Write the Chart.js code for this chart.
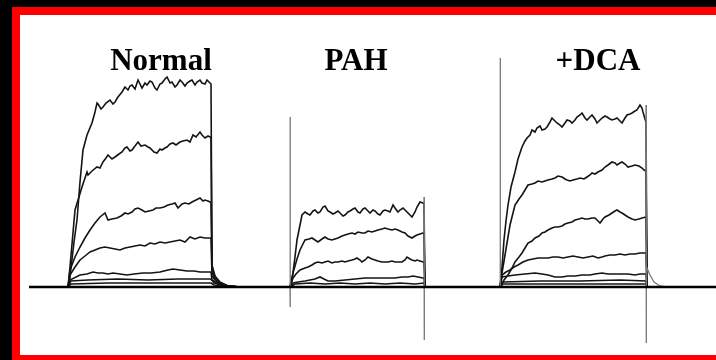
<!DOCTYPE html>
<html>
<head>
<meta charset="utf-8">
<script src="https://cdn.jsdelivr.net/npm/chart.js@4.4.1/dist/chart.umd.min.js"></script>
<style>
  html, body { margin: 0; padding: 0; background: #000; overflow: hidden; }
  #frame { position: absolute; left: 12px; top: 7px; width: 704px; height: 353px; background: #f00; }
  #paper { position: absolute; left: 8px; top: 8px; right: 0; height: 340px; background: #fff; }
  #chart { position: absolute; left: 0; top: 0; }
  .label { position: absolute; top: 44px; width: 160px; margin-left: -80px; text-align: center;
           font: bold 31px "Liberation Serif", "Times New Roman", serif; line-height: 31px; color: #000; }
</style>
</head>
<body>
<div id="frame"><div id="paper"></div></div>
<canvas id="chart" width="716" height="360"></canvas>
<div class="label" style="left:161px">Normal</div>
<div class="label" style="left:356px">PAH</div>
<div class="label" style="left:598px">+DCA</div>
<script>
// panels and where each voltage step starts on the shared time axis (ms)
const panels = ['Normal', 'PAH', '+DCA'];
const onsets = [0, 222, 432];

// zero-current line, shared time axis
const baseline = [[-39, 0], [648, 0]];

// Normal: [time ms, current pA], largest step first
const normal1 = [[0,0],[2,10],[6,45],[9,67],[12,105],[15,137],[19,152],[24,164],[27,175],[29,184],[30,183],[33,178],[35,180],[38,184],[42,187],[45,183],[47,185],[50,190],[54,195],[57,200],[60,197],[62,201],[64,202],[67,198],[70,207],[72,203],[74,199],[77,204],[79,202],[82,206],[84,205],[87,199],[89,197],[92,203],[94,204],[97,208],[99,210],[102,204],[104,205],[107,200],[109,202],[112,207],[114,205],[117,201],[119,204],[122,206],[124,207],[127,202],[129,205],[132,207],[134,204],[137,203],[139,207],[142,204],[143,203],[144,22],[147,11],[152,5],[160,1],[172,0]];
const normal2 = [[0,0],[2,20],[7,77],[14,100],[19,115],[20,112],[24,116],[29,120],[32,119],[35,125],[38,129],[40,132],[44,128],[47,130],[51,133],[54,135],[57,139],[59,140],[62,136],[64,137],[67,141],[70,145],[73,141],[77,142],[80,140],[82,139],[86,135],[89,134],[92,138],[94,137],[97,139],[99,140],[102,143],[105,144],[108,142],[112,145],[115,146],[119,147],[122,145],[125,152],[128,150],[132,155],[134,152],[137,149],[140,151],[142,150],[143,150],[144,19],[147,10],[152,4],[160,1],[172,0]];
const normal3 = [[0,0],[2,17],[7,30],[12,40],[17,49],[22,57],[27,64],[32,70],[37,74],[40,67],[44,68],[49,69],[53,71],[57,74],[60,73],[64,75],[67,78],[70,79],[74,77],[77,75],[81,76],[85,77],[88,79],[92,79],[96,80],[100,82],[104,83],[107,84],[110,79],[114,83],[117,84],[121,83],[124,85],[128,87],[132,89],[135,86],[137,87],[140,86],[142,85],[143,85],[144,15],[147,8],[152,3],[160,1],[172,0]];
const normal4 = [[0,0],[2,12],[7,20],[12,27],[17,31],[22,35],[27,37],[32,39],[37,40],[42,39],[47,38],[52,37],[57,39],[62,40],[67,41],[72,42],[77,41],[82,44],[87,43],[92,45],[97,44],[102,45],[107,46],[112,47],[117,45],[122,50],[127,48],[132,50],[137,49],[142,49],[143,49],[144,11],[147,7],[152,3],[160,1],[172,0]];
const normal5 = [[0,0],[2,7],[12,12],[19,13],[25,15],[30,14],[35,14],[40,13],[45,14],[52,13],[59,12],[66,13],[75,14],[83,14],[92,15],[100,17],[105,18],[112,17],[119,16],[126,16],[132,15],[138,15],[143,15],[144,7],[150,3],[160,1],[172,0]];
const normal6 = [[0,0],[3,6],[20,7],[50,8],[80,7],[110,8],[143,8],[146,4],[160,1],[172,0]];
const normal7 = [[0,0],[3,3],[40,4],[90,4],[143,4],[146,2],[172,0]];

// PAH
const pah1 = [[0,0],[2,7],[5,30],[7,47],[10,62],[12,72],[15,75],[18,73],[20,72],[23,76],[25,77],[28,74],[30,75],[33,80],[35,81],[38,76],[40,75],[43,73],[45,74],[48,76],[50,74],[53,71],[55,72],[58,75],[60,76],[63,78],[65,79],[68,75],[70,74],[73,78],[75,79],[78,76],[80,74],[83,77],[85,76],[88,73],[90,72],[93,76],[95,77],[98,76],[100,75],[103,82],[105,79],[108,75],[110,77],[113,79],[116,76],[118,74],[122,70],[125,75],[127,80],[130,85],[133,84],[134,83],[135,0]];
const pah2 = [[0,0],[3,14],[7,28],[10,37],[15,47],[19,48],[22,49],[25,47],[28,45],[32,48],[35,50],[38,48],[42,47],[45,48],[48,49],[52,51],[55,52],[58,53],[62,54],[65,53],[68,55],[72,54],[75,54],[78,56],[82,55],[85,56],[88,57],[92,58],[95,59],[98,58],[102,57],[105,58],[108,57],[112,55],[115,54],[118,51],[122,49],[125,51],[127,52],[130,53],[133,54],[134,54],[135,0]];
const pah3 = [[0,0],[3,9],[6,13],[10,17],[15,19],[18,20],[22,22],[25,24],[28,25],[32,24],[35,25],[38,26],[42,24],[45,25],[48,25],[52,26],[55,25],[58,26],[62,27],[65,28],[67,29],[70,27],[72,25],[75,27],[78,30],[82,28],[85,27],[88,26],[92,25],[95,25],[98,25],[102,26],[105,25],[108,25],[112,25],[115,27],[117,30],[120,28],[122,27],[125,26],[127,27],[130,26],[133,25],[134,25],[135,0]];
const pah4 = [[0,0],[3,4],[8,5],[15,6],[20,7],[25,8],[30,10],[34,8],[38,6],[45,6],[55,7],[65,8],[75,9],[85,9],[95,9],[105,9],[112,10],[118,10],[123,11],[128,10],[133,9],[134,9],[135,0]];
const pah5 = [[0,0],[5,3],[20,4],[35,3],[50,4],[65,3],[80,4],[95,3],[110,4],[125,3],[134,4],[135,0]];

// +DCA
const dca1 = [[0,0],[2,20],[4,47],[6,66],[8,82],[11,100],[15,115],[18,128],[22,140],[25,146],[27,149],[30,152],[32,157],[35,155],[37,159],[40,161],[42,157],[45,158],[47,160],[50,165],[52,169],[55,166],[57,164],[60,162],[62,160],[65,164],[67,167],[70,166],[72,164],[75,167],[77,170],[80,172],[82,174],[85,169],[87,167],[90,170],[92,172],[95,168],[97,164],[100,167],[102,169],[105,171],[107,170],[110,168],[112,167],[115,168],[117,169],[120,166],[122,164],[125,169],[127,172],[130,173],[132,174],[135,176],[137,177],[140,182],[142,179],[143,175],[145,168],[146,165],[147,0]];
const dca2 = [[0,0],[2,14],[5,32],[8,50],[10,62],[13,74],[15,82],[19,88],[22,92],[25,97],[28,102],[32,103],[35,104],[38,106],[42,105],[45,106],[48,107],[52,108],[55,109],[58,111],[62,110],[65,108],[67,107],[70,106],[73,107],[77,108],[80,109],[84,108],[87,110],[90,112],[92,114],[95,113],[98,115],[102,117],[105,120],[108,122],[112,125],[115,124],[117,122],[120,124],[122,125],[125,123],[128,120],[132,121],[135,122],[139,121],[142,119],[144,117],[146,116],[147,0]];
const dca3 = [[0,0],[4,7],[8,12],[12,19],[15,25],[19,30],[22,34],[25,39],[28,44],[32,46],[35,49],[39,51],[42,54],[45,55],[48,57],[52,59],[55,60],[58,60],[62,61],[65,63],[68,64],[72,65],[75,67],[79,68],[82,69],[85,68],[88,68],[92,69],[95,69],[98,66],[100,64],[103,68],[105,70],[109,72],[112,74],[115,76],[117,77],[120,75],[122,74],[125,72],[128,70],[132,68],[135,67],[139,68],[142,69],[146,70],[147,0]];
const dca4 = [[0,0],[2,12],[6,15],[10,17],[14,20],[18,22],[23,25],[28,27],[33,28],[38,29],[43,29],[48,29],[53,30],[58,30],[63,29],[68,30],[73,31],[78,30],[83,29],[88,30],[93,31],[98,29],[102,30],[105,31],[110,32],[115,32],[120,33],[125,32],[130,33],[135,33],[140,34],[145,34],[146,34],[147,0]];
const dca5 = [[0,0],[2,10],[8,11],[15,12],[25,13],[35,14],[42,13],[48,12],[55,10],[62,10],[68,11],[75,11],[82,12],[90,12],[95,13],[102,14],[108,13],[115,13],[122,13],[128,13],[135,12],[140,13],[146,13],[147,0]];
const dca6 = [[0,0],[3,5],[40,6],[80,6],[120,7],[146,6],[147,0]];
const dca7 = [[0,0],[3,3],[146,3],[147,0]];

// capacitive transients at step on / off
const pahOn = [[0,0],[0,170],[0,-20],[0.6,0]];
const pahOff = [[134,90],[134,-53],[134.6,0]];
const dcaOn = [[0,0],[0,229],[0.6,0]];
const dcaOff = [[146,182],[146,-56],[146.6,0],[147,19],[150,12],[154,5],[160,1],[166,0]];

const traces = [
  [normal1, normal2, normal3, normal4, normal5, normal6, normal7],
  [pah1, pah2, pah3, pah4, pah5],
  [dca1, dca2, dca3, dca4, dca5, dca6, dca7]
];
const transients = [[], [pahOn, pahOff], [dcaOn, dcaOff]];

function toPoints(pairs, onset) {
  return pairs.map(p => ({ x: onset + p[0], y: p[1] }));
}

const datasets = [{
  label: 'baseline',
  data: toPoints(baseline, 0),
  borderColor: '#000',
  borderWidth: 2.5
}];

panels.forEach((name, i) => {
  transients[i].forEach(tr => {
    datasets.push({
      label: name + ' transient',
      data: toPoints(tr, onsets[i]),
      borderColor: '#777',
      borderWidth: 1.3
    });
  });
  traces[i].forEach((tr, k) => {
    datasets.push({
      label: name + ' ' + (k + 1),
      data: toPoints(tr, onsets[i]),
      borderColor: '#141414',
      borderWidth: 1.6
    });
  });
});

datasets.forEach(d => {
  d.showLine = true;
  d.pointRadius = 0;
  d.fill = false;
  d.clip = false;
});

const ctx = document.getElementById('chart');
const chart = new Chart(ctx, {
  type: 'scatter',
  data: { datasets: datasets },
  options: {
    responsive: false,
    animation: false,
    devicePixelRatio: 1,
    layout: { padding: 0 },
    plugins: {
      legend: { display: false },
      tooltip: { enabled: false }
    },
    elements: { line: { tension: 0 } },
    scales: {
      x: { type: 'linear', display: false, min: -68, max: 648 },
      y: { display: false, min: -73, max: 287 }
    }
  }
});
</script>
</body>
</html>
